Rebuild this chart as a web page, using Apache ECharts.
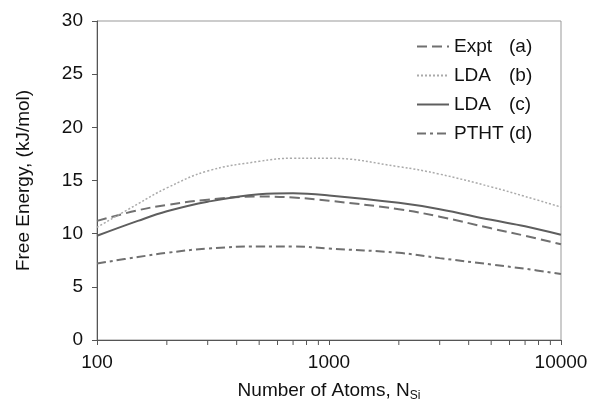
<!DOCTYPE html>
<html><head><meta charset="utf-8">
<script src="https://cdn.jsdelivr.net/npm/echarts@6/dist/echarts.min.js"></script>
<style>html,body{margin:0;padding:0;background:#fff}#c{width:593px;height:405px}</style>
</head><body><div id="c"></div>
<script>
const atoms = [100, 150, 200, 300, 500, 700, 1000, 2000, 3000, 5000, 7000, 10000];
const expt  = [11.2, 12.2, 12.7, 13.2, 13.5, 13.4, 13.1, 12.3, 11.6, 10.5, 9.8, 9.0];
const ldaB  = [10.6, 12.8, 14.3, 15.9, 16.8, 17.1, 17.1, 16.3, 15.6, 14.4, 13.5, 12.5];
const ldaC  = [9.8, 11.2, 12.1, 13.0, 13.7, 13.8, 13.6, 12.9, 12.3, 11.3, 10.7, 9.9];
const ptht  = [7.2, 7.8, 8.2, 8.6, 8.8, 8.8, 8.6, 8.2, 7.7, 7.1, 6.7, 6.2];
const seriesNames = ['Expt (a)', 'LDA (b)', 'LDA (c)', 'PTHT (d)'];
const xMinorTicks = [200, 300, 400, 500, 600, 700, 800, 900, 2000, 3000, 4000, 5000, 6000, 7000, 8000, 9000];

const FONT = 'Liberation Sans, Arial, sans-serif';
const pair = arr => atoms.map((a, i) => [a, arr[i]]);
const chart = echarts.init(document.getElementById('c'));
function lineSeries(name, data, color, width, type) {
  return {
    name, type: 'line', data: pair(data), symbol: 'none', smooth: 0.4,
    lineStyle: { color, width, type }, itemStyle: { color }, z: 3
  };
}
chart.setOption({
  animation: false,
  textStyle: { fontFamily: FONT },
  grid: { left: 97, right: 32, top: 21, bottom: 65, show: true, borderColor: '#999', borderWidth: 1, containLabel: false, outerBoundsMode: 'none' },
  legend: {
    orient: 'vertical', left: 411, top: 32, itemWidth: 32, itemHeight: 10, itemGap: 10,
    data: seriesNames,
    itemStyle: { opacity: 0 },
    formatter: name => { const i = name.lastIndexOf(' '); return '{n|' + name.slice(0, i) + '}{l|' + name.slice(i + 1) + '}'; },
    textStyle: { fontSize: 19, color: '#111', fontFamily: FONT,
      rich: { n: { width: 55, fontSize: 19, fontFamily: FONT, color: '#111' }, l: { fontSize: 19, fontFamily: FONT, color: '#111' } } }
  },
  xAxis: {
    type: 'log', logBase: 10, min: 100, max: 10000,
    axisLine: { lineStyle: { color: '#555', width: 1 } },
    axisTick: { show: true, length: 5, lineStyle: { color: '#555' } },
    splitLine: { show: false },
    axisLabel: { fontSize: 19, color: '#111', margin: 13, fontFamily: FONT, formatter: v => String(Math.round(v)) },
    name: '{a|Number of Atoms, N}{s|Si}', nameLocation: 'middle', nameGap: 40,
    nameTextStyle: { rich: { a: { fontSize: 19, color: '#111', fontFamily: FONT }, s: { fontSize: 12, color: '#111', fontFamily: FONT, padding: [10, 0, 0, 0] } } }
  },
  yAxis: {
    type: 'value', min: 0, max: 30, interval: 5,
    axisLine: { show: true, lineStyle: { color: '#555', width: 1 } },
    axisTick: { show: true, length: 5, lineStyle: { color: '#555' } },
    splitLine: { show: false },
    axisLabel: { fontSize: 19, color: '#111', margin: 14, fontFamily: FONT },
    name: 'Free Energy, (kJ/mol)', nameLocation: 'middle', nameGap: 64, nameRotate: 90,
    nameTextStyle: { fontSize: 19, color: '#111', fontFamily: FONT }
  },
  series: [
    lineSeries('Expt (a)', expt, '#707070', 2, [10, 5]),
    lineSeries('LDA (b)', ldaB, '#aaaaaa', 1.5, [2, 2]),
    lineSeries('LDA (c)', ldaC, '#5e5e5e', 2, 'solid'),
    lineSeries('PTHT (d)', ptht, '#707070', 2, [9, 4, 3, 4]),
    {
      type: 'custom', silent: true, clip: false, z: 4,
      data: xMinorTicks.map(v => [v, 0]),
      renderItem: (params, api) => {
        const p = api.coord([api.value(0), 0]);
        return { type: 'line', shape: { x1: p[0], y1: p[1], x2: p[0], y2: p[1] + 5 }, style: { stroke: '#555', lineWidth: 1 } };
      }
    }
  ]
});
</script></body></html>
